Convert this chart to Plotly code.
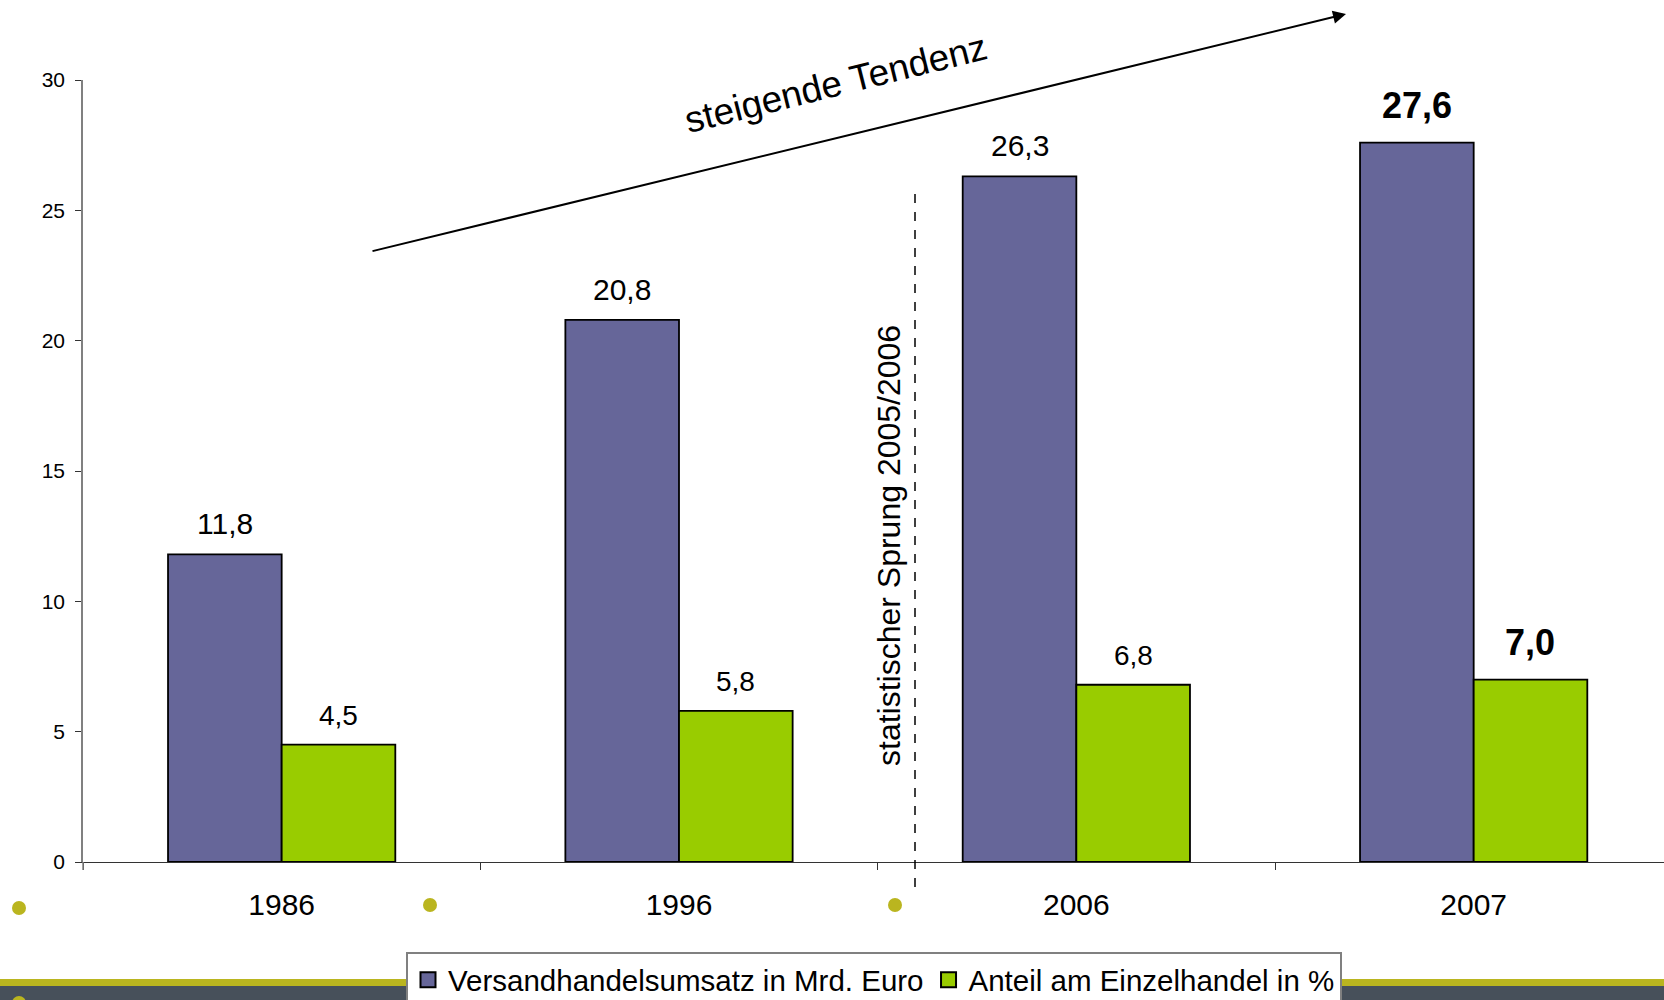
import plotly.graph_objects as go

years = ["1986", "1996", "2006", "2007"]
umsatz = [11.8, 20.8, 26.3, 27.6]          # Versandhandelsumsatz in Mrd. Euro
anteil = [4.5, 5.8, 6.8, 7.0]              # Anteil am Einzelhandel in %
umsatz_labels = ["11,8", "20,8", "26,3", "27,6"]
anteil_labels = ["4,5", "5,8", "6,8", "7,0"]
bold_flags = [False, False, False, True]
y_ticks = [0, 5, 10, 15, 20, 25, 30]

W, H = 1664, 1000
L, R, T, B = 83, 0, 80, 138
PW, PH = W - L - R, H - T - B
FONT = "Liberation Sans, Arial, sans-serif"
BLUE = "#666699"
GREEN = "#99CC00"
OLIVE = "#BAB51F"
SLATE = "#47505A"
NAMES = ["Versandhandelsumsatz in Mrd. Euro", "Anteil am Einzelhandel in %"]


def px(x):
    return (x - L) / PW


def py(y):
    return (H - B - y) / PH


fig = go.Figure()
fig.add_trace(go.Bar(x=years, y=umsatz, name=NAMES[0], showlegend=False,
                     marker=dict(color=BLUE, line=dict(color="black", width=1.8))))
fig.add_trace(go.Bar(x=years, y=anteil, name=NAMES[1], showlegend=False,
                     marker=dict(color=GREEN, line=dict(color="black", width=1.8))))
# legend-only entries with larger square symbols
for name, col in zip(NAMES, (BLUE, GREEN)):
    fig.add_trace(go.Scatter(x=[None], y=[None], mode="markers", name=name, showlegend=True,
                             marker=dict(symbol="square", size=15, color=col,
                                         line=dict(color="black", width=2))))

annotations = []
bar_half = PW / 3.979 * (1 - 0.428) / 4
for i, yr in enumerate(years):
    for vals, labs, sign, size in ((umsatz, umsatz_labels, -1, 30), (anteil, anteil_labels, 1, 28)):
        b = bold_flags[i]
        txt = f"<b>{labs[i]}</b>" if b else labs[i]
        annotations.append(dict(x=i, y=vals[i], xref="x", yref="y", text=txt, showarrow=False,
                                xshift=sign * bar_half, yshift=15 if b else 12,
                                xanchor="center", yanchor="bottom",
                                font=dict(family=FONT, size=36 if b else size, color="black")))

# trend arrow
annotations.append(dict(x=px(1346), y=py(14), xref="paper", yref="paper", text="", showarrow=True,
                        ax=371 - 1346, ay=251.5 - 14, axref="pixel", ayref="pixel",
                        arrowhead=2, arrowsize=1.3, arrowwidth=2, arrowcolor="black"))
annotations.append(dict(x=px(788 * 1.0612), y=py(79 * 1.0612), xref="paper", yref="paper",
                        text="steigende Tendenz", showarrow=False, textangle=-14,
                        xanchor="center", yanchor="middle",
                        font=dict(family=FONT, size=37, color="black")))
annotations.append(dict(x=px(889), y=py(546), xref="paper", yref="paper",
                        text="statistischer Sprung 2005/2006", showarrow=False, textangle=-90,
                        xanchor="center", yanchor="middle",
                        font=dict(family=FONT, size=32, color="black")))

shapes = [
    dict(type="line", xref="paper", yref="paper", x0=px(915), x1=px(915), y0=py(194), y1=py(889),
         line=dict(color="black", width=1.5, dash="dash")),
    dict(type="line", xref="paper", yref="paper", x0=px(L), x1=px(L), y0=py(862), y1=py(870),
         line=dict(color="#808080", width=1.5)),
    dict(type="rect", xref="paper", yref="paper", x0=px(0), x1=px(W), y0=py(979), y1=py(986),
         fillcolor=OLIVE, line=dict(width=0)),
    dict(type="rect", xref="paper", yref="paper", x0=px(0), x1=px(W), y0=py(986), y1=py(1000),
         fillcolor=SLATE, line=dict(width=0)),
]
for cx, cy in ((19, 908), (430, 905), (895, 905), (19, 1003)):
    shapes.append(dict(type="circle", xref="paper", yref="paper", x0=px(cx - 7), x1=px(cx + 7),
                       y0=py(cy - 7), y1=py(cy + 7), fillcolor=OLIVE, line=dict(width=0)))

fig.update_layout(
    width=W, height=H,
    margin=dict(l=L, r=R, t=T, b=B, pad=0, autoexpand=False),
    paper_bgcolor="white", plot_bgcolor="white",
    barmode="group", bargap=0.428, bargroupgap=0,
    font=dict(family=FONT, color="black"),
    showlegend=True,
    legend=dict(orientation="h", x=px(406), y=py(952), xanchor="left", yanchor="top",
                bgcolor="white", bordercolor="#808080", borderwidth=2, itemsizing="trace",
                font=dict(family=FONT, size=29.5, color="black"), traceorder="normal"),
    annotations=annotations,
    shapes=shapes,
    xaxis=dict(type="category", range=[-0.5, 3.479], tickson="boundaries", ticks="outside",
               ticklen=7, tickcolor="#333333", showline=True, linecolor="#333333", linewidth=1,
               showgrid=False, tickfont=dict(family=FONT, size=30, color="black"),
               ticklabelstandoff=16),
    yaxis=dict(range=[0, 30], tickvals=y_ticks, ticks="outside", ticklen=6, tickcolor="#333333",
               showline=True, linecolor="#808080", linewidth=1.5, showgrid=False, zeroline=False,
               tickfont=dict(family=FONT, size=21, color="black"), ticklabelstandoff=6),
)

fig.write_html("out.html", config={"displayModeBar": False},
               post_script="document.body.style.margin='0';document.body.style.overflow='hidden';")
